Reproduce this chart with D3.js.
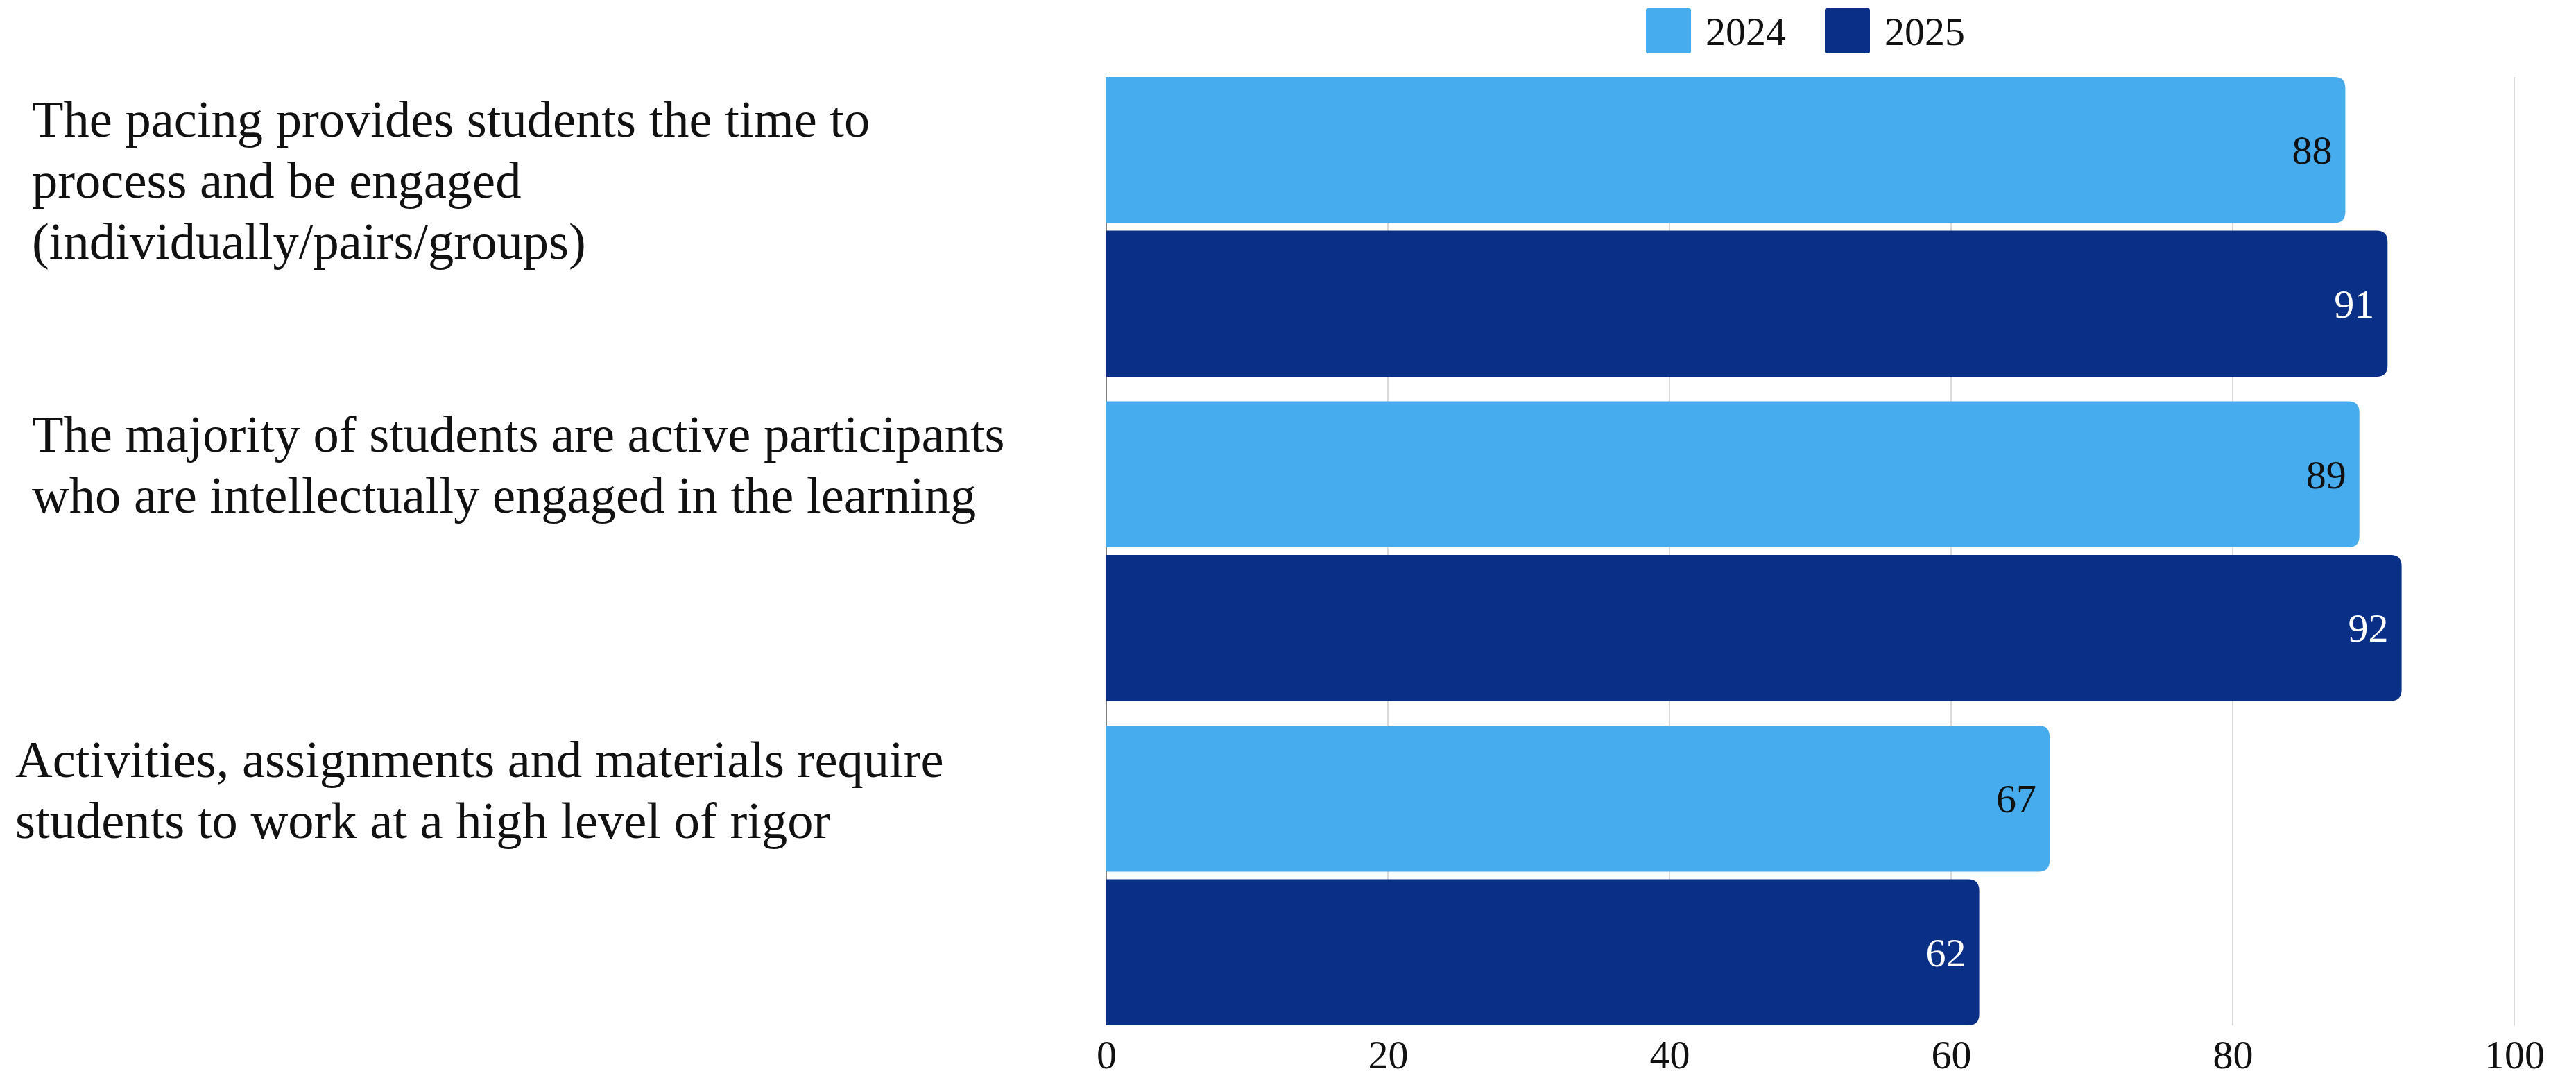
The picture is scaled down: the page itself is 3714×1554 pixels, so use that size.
<!DOCTYPE html>
<html lang="en">
<head>
  <meta charset="UTF-8">
  <script src="https://d3js.org/d3.v7.min.js"></script>
  <style>
    body {
      margin: 0;
      background: #fff;
      font-family: 'Liberation Serif', serif;
    }

    line.grid {
      stroke: #cccccc;
      stroke-width: 1.5px;
    }

    line.zero {
      stroke: #808080;
      stroke-width: 2px;
    }

    text.cat {
      font-size: 74.5px;
      fill: #111;
    }

    text.value,
    .x-axis text,
    text.legend {
      font-size: 58px;
    }
  </style>
</head>
<body>

<script>
  // data
  const categories = [
    "The pacing provides students the time to process and be engaged (individually/pairs/groups)",
    "The majority of students are active participants who are intellectually engaged in the learning",
    "Activities, assignments and materials require students to work at a high level of rigor"
  ];
  const categoryLines = [
    ["The pacing provides students the time to", "process and be engaged", "(individually/pairs/groups)"],
    ["The majority of students are active participants", "who are intellectually engaged in the learning"],
    ["Activities, assignments and materials require", "students to work at a high level of rigor"]
  ];
  const seriesNames = ["2024", "2025"];
  const values2024 = [88, 89, 67];
  const values2025 = [91, 92, 62];
  const xTicks = [0, 20, 40, 60, 80, 100];

  const colors = { "2024": "#47aced", "2025": "#0a2f87" };
  const labelColors = { "2024": "#111111", "2025": "#ffffff" };

  const width = 3714, height = 1554;
  const plot = { left: 1595, right: 3625, top: 111, bottom: 1478 };

  // per-label placement of the category text (left edge, first baseline below band top)
  const labelX = [46, 46, 22];
  const labelTop = [86, 72, 74];
  const lineHeight = 88;

  const rows = categories.map((c, i) => ({
    cat: c,
    values: [
      { key: "2024", value: values2024[i] },
      { key: "2025", value: values2025[i] }
    ]
  }));

  const svg = d3.select("body").append("svg")
    .attr("width", width)
    .attr("height", height);

  const x = d3.scaleLinear()
    .domain([0, 100])
    .range([plot.left, plot.right]);

  const y0 = d3.scaleBand()
    .domain(categories)
    .range([plot.top, plot.bottom])
    .paddingInner(0.076)
    .paddingOuter(0);

  const y1 = d3.scaleBand()
    .domain(seriesNames)
    .range([0, y0.bandwidth()])
    .paddingInner(0.05);

  // grid lines
  svg.selectAll("line.grid")
    .data(xTicks.filter(d => d > 0))
    .enter().append("line")
    .attr("class", "grid")
    .attr("x1", d => x(d)).attr("x2", d => x(d))
    .attr("y1", plot.top).attr("y2", plot.bottom);

  svg.append("line")
    .attr("class", "zero")
    .attr("x1", x(0)).attr("x2", x(0))
    .attr("y1", plot.top).attr("y2", plot.bottom);

  // bars with rounded right end
  const r = 16;
  function barPath(x0, x1, yTop, h) {
    const w = x1 - x0;
    const rr = Math.min(r, w / 2, h / 2);
    return `M${x0},${yTop}H${x1 - rr}Q${x1},${yTop} ${x1},${yTop + rr}` +
      `V${yTop + h - rr}Q${x1},${yTop + h} ${x1 - rr},${yTop + h}H${x0}Z`;
  }

  const group = svg.selectAll("g.cat")
    .data(rows)
    .enter().append("g")
    .attr("class", "cat")
    .attr("transform", d => `translate(0,${y0(d.cat)})`);

  group.selectAll("path.bar")
    .data(d => d.values)
    .enter().append("path")
    .attr("class", "bar")
    .attr("fill", d => colors[d.key])
    .attr("d", d => barPath(x(0), x(d.value), y1(d.key), y1.bandwidth()));

  group.selectAll("text.value")
    .data(d => d.values)
    .enter().append("text")
    .attr("class", "value")
    .attr("text-anchor", "end")
    .attr("x", d => x(d.value) - 19)
    .attr("y", d => y1(d.key) + y1.bandwidth() / 2 + 20)
    .attr("fill", d => labelColors[d.key])
    .text(d => d.value);

  // category labels
  categories.forEach((c, i) => {
    const t = svg.append("text")
      .attr("class", "cat")
      .attr("x", labelX[i])
      .attr("y", y0(c) + labelTop[i]);
    categoryLines[i].forEach((line, j) => {
      t.append("tspan")
        .attr("x", labelX[i])
        .attr("dy", j === 0 ? 0 : lineHeight)
        .text(line);
    });
  });

  // x axis
  const xAxis = svg.append("g")
    .attr("class", "x-axis")
    .attr("transform", `translate(0,${plot.bottom})`)
    .call(d3.axisBottom(x).tickValues(xTicks).tickSize(0).tickFormat(d3.format("d")));
  xAxis.select(".domain").remove();
  xAxis.selectAll("text")
    .attr("y", 62)
    .attr("dy", 0)
    .attr("fill", "#111")
    .style("font-family", "'Liberation Serif', serif");

  // legend centred over the plot
  const sq = 65, gapText = 21, gapItem = 56;
  const legend = svg.append("g").attr("class", "legend");
  let cursor = 0;
  seriesNames.forEach(name => {
    const item = legend.append("g").attr("transform", `translate(${cursor},0)`);
    item.append("rect")
      .attr("width", sq).attr("height", sq)
      .attr("rx", 3)
      .attr("fill", colors[name]);
    const txt = item.append("text")
      .attr("class", "legend")
      .attr("x", sq + gapText)
      .attr("y", 53)
      .attr("fill", "#111")
      .text(name);
    cursor += sq + gapText + txt.node().getComputedTextLength() + gapItem;
  });
  const legendWidth = cursor - gapItem;
  legend.attr("transform", `translate(${2603 - legendWidth / 2},12)`);
</script>

</body>
</html>
